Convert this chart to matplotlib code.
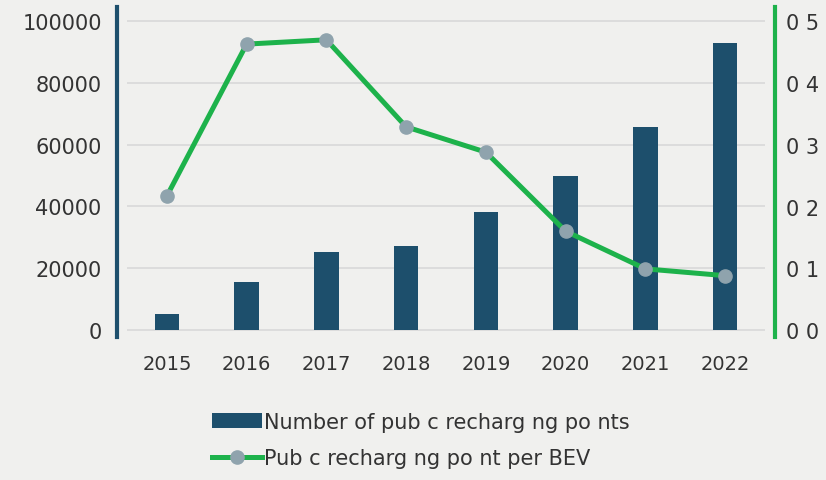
import matplotlib
matplotlib.use("Agg")
import matplotlib.pyplot as plt
import numpy as np

# Data
years = ["2015", "2016", "2017", "2018", "2019", "2020", "2021", "2022"]
charging_points = [5300, 15400, 25200, 27200, 38300, 49900, 65700, 93000]
points_per_bev = [0.217, 0.463, 0.470, 0.329, 0.288, 0.160, 0.099, 0.088]
left_ticks = [0, 20000, 40000, 60000, 80000, 100000]
left_labels = ["0", "20000", "40000", "60000", "80000", "100000"]
right_ticks = [0.0, 0.1, 0.2, 0.3, 0.4, 0.5]
right_labels = ["0 0", "0 1", "0 2", "0 3", "0 4", "0 5"]
bar_label = "Number of pub c recharg ng po nts"
line_label = "Pub c recharg ng po nt per BEV"

bg = "#f0f0ee"
bar_color = "#1d4f6c"
line_color = "#1db24b"
marker_color = "#8fa3ad"
text_color = "#333333"

fig = plt.figure(figsize=(8.26, 4.81), dpi=100, facecolor=bg)
W, H = 826, 481
ax = fig.add_axes([127 / W, 1 - 338 / H, (765 - 127) / W, (338 - 8) / H])
ax.set_facecolor(bg)

x = np.arange(len(years))
bars = ax.bar(x, charging_points, width=0.31, color=bar_color, zorder=2, label=bar_label)
ax.set_xlim(-0.5, 7.5)
ax.set_ylim(-2267, 104615)

ax2 = ax.twinx()
line, = ax2.plot(x, points_per_bev, color=line_color, lw=3.6, marker="o", ms=9.5,
                 mfc=marker_color, mec=marker_color, zorder=3, label=line_label)
ax2.set_ylim(-0.01134, 0.5231)

# gridlines on the left axis only
ax.set_yticks(left_ticks)
ax.set_yticklabels(left_labels)
ax.yaxis.grid(True, color="#d9d9d9", lw=1.2, zorder=0)
ax.set_axisbelow(True)
ax2.set_yticks(right_ticks)
ax2.set_yticklabels(right_labels)

ax.set_xticks(x)
ax.set_xticklabels(years)

for a in (ax, ax2):
    for s in a.spines.values():
        s.set_visible(False)
    a.tick_params(length=0, colors=text_color, labelsize=15)

ax.spines["left"].set_visible(True)
ax.spines["left"].set_color(bar_color)
ax.spines["left"].set_linewidth(3)
ax.spines["left"].set_position(("outward", 7.2))
ax2.spines["right"].set_visible(True)
ax2.spines["right"].set_color(line_color)
ax2.spines["right"].set_linewidth(3)
ax2.spines["right"].set_position(("outward", 7.2))

ax.tick_params(axis="y", pad=11)
ax2.tick_params(axis="y", pad=8)
ax.tick_params(axis="x", pad=12, labelsize=14)

fig.legend(handles=[bars, line], loc="upper left", bbox_to_anchor=(193 / W, 1 - 394 / H),
           frameon=False, fontsize=15, handlelength=2.4, handletextpad=0.1,
           labelspacing=0.8, labelcolor=text_color)

fig.savefig("out.png", dpi=100, facecolor=bg)
